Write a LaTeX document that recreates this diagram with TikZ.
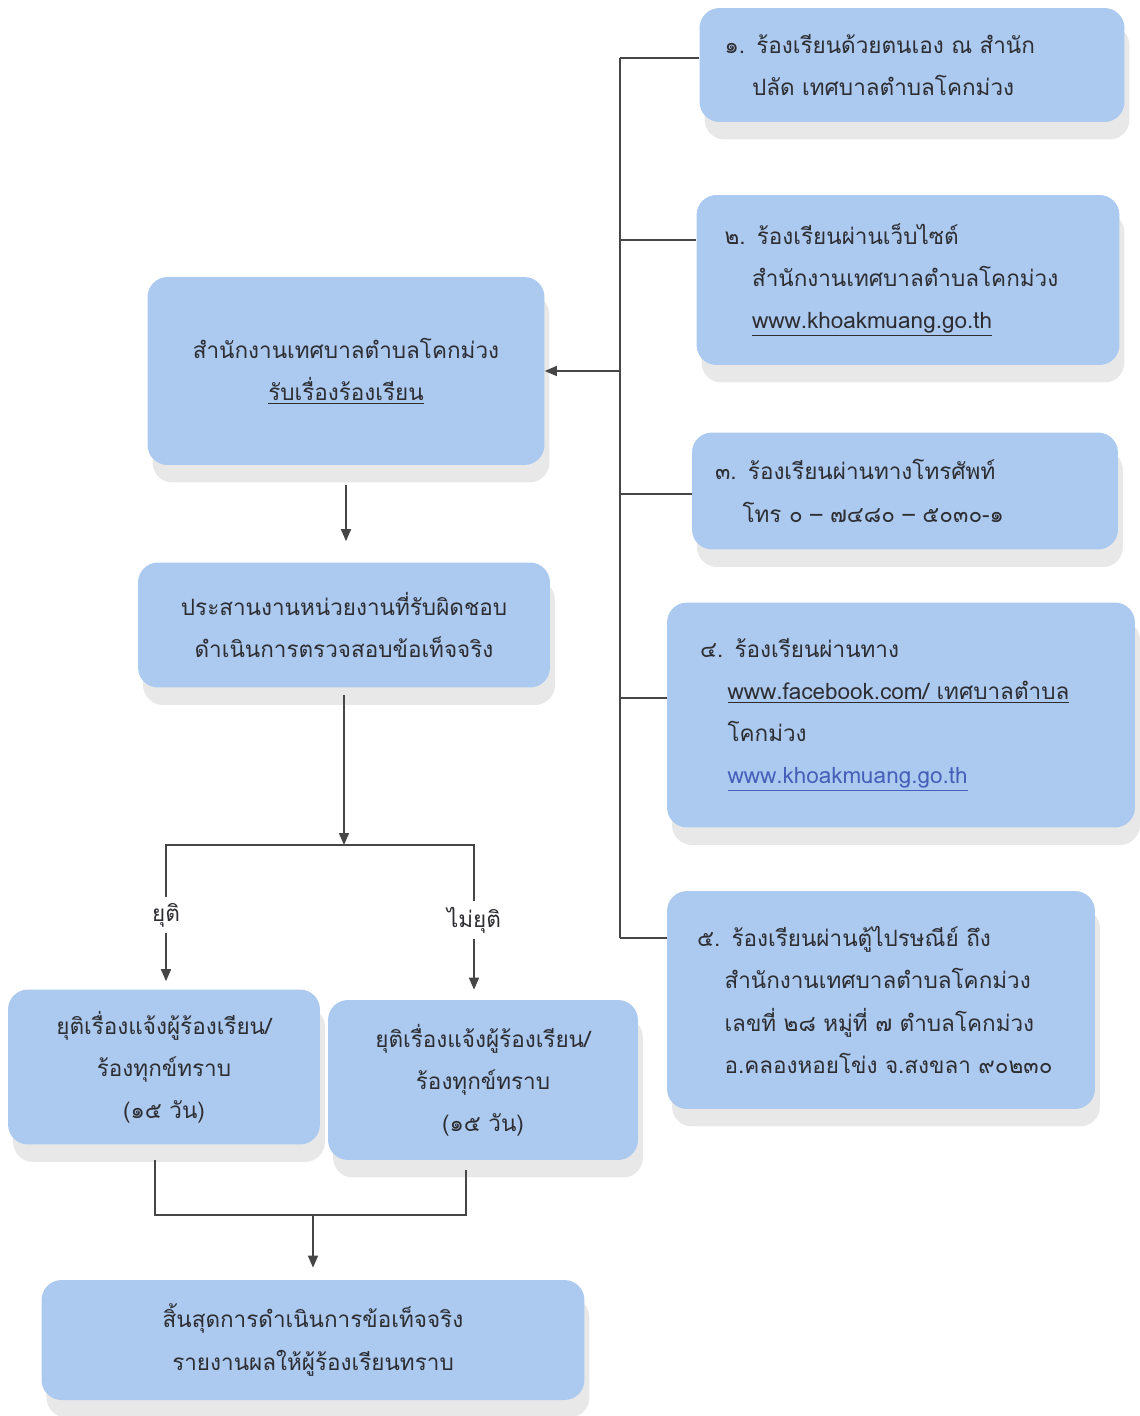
\documentclass[tikz,border=0pt]{standalone}
\usepackage{fontspec}
\setmainfont[Script=Thai]{Loma}
\usetikzlibrary{arrows.meta,shadows}
\definecolor{boxblue}{RGB}{172,202,240}
\definecolor{linegray}{RGB}{70,70,70}
\definecolor{textgray}{RGB}{45,45,50}
\definecolor{linkblue}{RGB}{70,95,185}
\begin{document}
\begin{tikzpicture}[x=0.02cm, y=-0.02cm,
	flowbox/.style={rounded corners=0.4cm, fill=boxblue, text=textgray, font=\fontsize{12.8pt}{24pt}\selectfont,
		drop shadow={shadow xshift=0.1cm, shadow yshift=-0.35cm, opacity=0.09, fill=black}},
	channel/.style={flowbox, align=left},
	stepbox/.style={flowbox, align=center},
	wire/.style={draw=linegray, line width=0.8pt},
	arrowline/.style={wire, -{Triangle[length=2.4mm, width=2mm]}}
	]
		\fill[white] (0,0) rectangle (1139,1416);
		\useasboundingbox (0,0) rectangle (1139,1416);
		
		%complaint channels
		\node (ch1) at (912,65) [channel, minimum width=8.5cm, minimum height=2.28cm, inner xsep=0.5cm, text width=7.5cm]{%
			๑. ร้องเรียนด้วยตนเอง ณ สำนัก\\\hspace*{0.55cm}ปลัด เทศบาลตำบลโคกม่วง};
		\node (ch2) at (908,280) [channel, minimum width=8.46cm, minimum height=3.4cm, inner xsep=0.56cm, text width=7.34cm]{%
			๒. ร้องเรียนผ่านเว็บไซต์\\\hspace*{0.55cm}สำนักงานเทศบาลตำบลโคกม่วง\\\hspace*{0.55cm}\underline{www.khoakmuang.go.th}};
		\node (ch3) at (905,491) [channel, minimum width=8.52cm, minimum height=2.34cm, inner xsep=0.46cm, text width=7.6cm]{%
			๓. ร้องเรียนผ่านทางโทรศัพท์\\\hspace*{0.55cm}โทร ๐ -- ๗๔๘๐ -- ๕๐๓๐-๑};
		\node (ch4) at (901,715) [channel, minimum width=9.36cm, minimum height=4.5cm, inner xsep=0.66cm, text width=8.04cm]{%
			๔. ร้องเรียนผ่านทาง\\\hspace*{0.55cm}\underline{www.facebook.com/ เทศบาลตำบล}\\\hspace*{0.55cm}โคกม่วง\\\hspace*{0.55cm}\textcolor{linkblue}{\underline{www.khoakmuang.go.th}}};
		\node (ch5) at (881,1000) [channel, minimum width=8.56cm, minimum height=4.36cm, inner xsep=0.6cm, text width=7.36cm]{%
			๕. ร้องเรียนผ่านตู้ไปรษณีย์ ถึง\\\hspace*{0.55cm}สำนักงานเทศบาลตำบลโคกม่วง\\\hspace*{0.55cm}เลขที่ ๒๘ หมู่ที่ ๗ ตำบลโคกม่วง\\\hspace*{0.55cm}อ.คลองหอยโข่ง จ.สงขลา ๙๐๒๓๐};
		
		%process steps
		\node (recv) at (346,371) [stepbox, minimum width=7.94cm, minimum height=3.76cm, text width=7cm]{%
			สำนักงานเทศบาลตำบลโคกม่วง\\\underline{รับเรื่องร้องเรียน}};
		\node (coord) at (344,625) [stepbox, minimum width=8.24cm, minimum height=2.5cm, text width=7.3cm]{%
			ประสานงานหน่วยงานที่รับผิดชอบ\\ดำเนินการตรวจสอบข้อเท็จจริง};
		\node (yesbox) at (164,1067) [stepbox, minimum width=6.24cm, minimum height=3.1cm, text width=5.6cm]{%
			ยุติเรื่องแจ้งผู้ร้องเรียน/\\ร้องทุกข์ทราบ\\(๑๕ วัน)};
		\node (nobox) at (483,1080) [stepbox, minimum width=6.2cm, minimum height=3.2cm, text width=5.6cm]{%
			ยุติเรื่องแจ้งผู้ร้องเรียน/\\ร้องทุกข์ทราบ\\(๑๕ วัน)};
		\node (final) at (313,1340) [stepbox, minimum width=10.86cm, minimum height=2.4cm, text width=9.8cm]{%
			สิ้นสุดการดำเนินการข้อเท็จจริง\\รายงานผลให้ผู้ร้องเรียนทราบ};
		\node (yeslbl) at (166,915) [text=textgray, font=\fontsize{12.8pt}{24pt}\selectfont]{ยุติ};
		\node (nolbl) at (474,920) [text=textgray, font=\fontsize{12.8pt}{24pt}\selectfont]{ไม่ยุติ};
		
		%bus to the channels
		\coordinate (bustop) at (620,58);
		\coordinate (busbot) at (620,938);
		\draw[wire] (bustop) -- (busbot);
		\foreach \c/\y in {ch1/58, ch2/240, ch3/494, ch4/698, ch5/938}{
			\draw[wire] (620,\y) -- (\c.west |- 620,\y);
		}
		\draw[arrowline] (bustop |- recv.east) -- (recv.east);
		
		%flow
		\draw[arrowline, shorten <=0.4cm, shorten >=0.42cm] (recv.south) -- (recv.south |- coord.north);
		\coordinate (split) at (coord.south |- 0,845);
		\draw[arrowline, shorten <=0.14cm] (coord.south) -- (split);
		\draw[wire] (yeslbl.north) -- (yeslbl.north |- split) -- (nolbl.north |- split) -- (nolbl.north);
		\draw[arrowline, shorten >=0.16cm] (yeslbl.south) -- (yeslbl.south |- yesbox.north);
		\draw[arrowline, shorten >=0.2cm] (nolbl.south) -- (nolbl.south |- nobox.north);
		\coordinate (merge) at (313,1215);
		\draw[wire, shorten <=0.3cm, shorten >=0.2cm] ([xshift=-0.18cm]yesbox.south) -- ([xshift=-0.18cm]yesbox.south |- merge) -- ([xshift=-0.34cm]nobox.south |- merge) -- ([xshift=-0.34cm]nobox.south);
		\draw[arrowline, shorten >=0.24cm] (merge) -- (final.north);
\end{tikzpicture}
\end{document}
